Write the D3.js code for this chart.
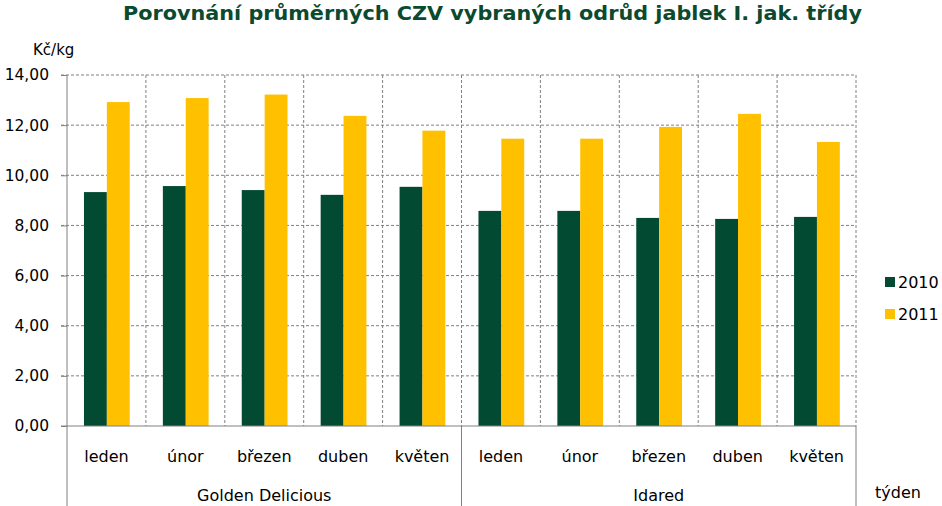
<!DOCTYPE html>
<html>
<head>
<meta charset="utf-8">
<script src="https://cdn.jsdelivr.net/npm/d3@7"></script>
<style>
  body { margin: 0; background: #fff; }
  text { font-family: "DejaVu Sans", Verdana, sans-serif; }
</style>
</head>
<body>
<div id="chart"></div>
<script>
// data
var groups = ['Golden Delicious', 'Idared'];
var months = ['leden', 'únor', 'březen', 'duben', 'květen'];
var series = ['2010', '2011'];
var values2010 = [9.33, 9.57, 9.41, 9.22, 9.54, 8.58, 8.58, 8.30, 8.26, 8.34];
var values2011 = [12.92, 13.08, 13.22, 12.37, 11.78, 11.46, 11.46, 11.93, 12.45, 11.33];
var yTicks = [0, 2, 4, 6, 8, 10, 12, 14];
var colors = ['#034a32', '#ffc000'];

var margin = { top: 75, right: 86, bottom: 80, left: 67 },
    width = 942 - margin.left - margin.right,
    height = 506 - margin.top - margin.bottom;

var svg = d3.select('#chart')
  .append('svg')
    .attr('width', 942)
    .attr('height', 506)
  .append('g')
    .attr('transform', 'translate(' + margin.left + ',' + margin.top + ')');

// one row per bar category
var rows = [];
groups.forEach(function(g, gi) {
  months.forEach(function(m, mi) {
    var i = gi * months.length + mi;
    rows.push({ key: g + '|' + m, group: g, month: m, vals: [values2010[i], values2011[i]] });
  });
});

var x0 = d3.scaleBand()
  .domain(rows.map(d => d.key))
  .range([0, width]);
var bw = x0.bandwidth();
var x1 = d3.scaleBand()
  .domain(series)
  .range([bw * 0.215, bw * 0.795]);
var xg = d3.scaleBand()
  .domain(groups)
  .range([0, width]);

var y = d3.scaleLinear()
  .domain([0, 14])
  .range([height, 0]);

// horizontal gridlines
svg.append('g')
  .selectAll('line')
  .data(yTicks.filter(t => t > 0))
  .enter()
  .append('line')
    .attr('x1', -6)
    .attr('x2', width)
    .attr('y1', d => y(d))
    .attr('y2', d => y(d))
    .attr('stroke', '#808080')
    .attr('stroke-dasharray', '3,2');

// vertical gridlines
svg.append('g')
  .selectAll('line')
  .data(rows)
  .enter()
  .append('line')
    .attr('x1', d => x0(d.key) + bw)
    .attr('x2', d => x0(d.key) + bw)
    .attr('y1', 0)
    .attr('y2', height)
    .attr('stroke', '#808080')
    .attr('stroke-dasharray', '3,2');

// bars
var cat = svg.append('g')
  .selectAll('g')
  .data(rows)
  .enter()
  .append('g')
    .attr('transform', d => 'translate(' + x0(d.key) + ',0)');

cat.selectAll('rect')
  .data(d => d.vals.map((v, i) => ({ s: series[i], v: v, i: i })))
  .enter()
  .append('rect')
    .attr('x', d => x1(d.s))
    .attr('width', x1.bandwidth())
    .attr('y', d => y(d.v))
    .attr('height', d => height - y(d.v))
    .attr('fill', d => colors[d.i]);

// y axis
var yAxis = svg.append('g')
  .call(d3.axisLeft(y)
    .tickValues(yTicks)
    .tickSize(6)
    .tickPadding(12)
    .tickFormat(d => d3.format('.2f')(d).replace('.', ',')));
yAxis.select('.domain').attr('stroke', '#808080').attr('d', 'M0,0V' + (height + margin.bottom));
yAxis.selectAll('.tick line').attr('stroke', '#808080');
yAxis.selectAll('.tick text')
  .attr('font-family', '"DejaVu Sans", Verdana, sans-serif')
  .attr('font-size', '15.5px')
  .attr('fill', '#000');

// x axis line
svg.append('line')
  .attr('x1', -6)
  .attr('x2', width)
  .attr('y1', height)
  .attr('y2', height)
  .attr('stroke', '#808080');

// group separators below the axis
svg.append('g')
  .selectAll('line')
  .data(groups)
  .enter()
  .append('line')
    .attr('x1', d => xg(d) + xg.bandwidth())
    .attr('x2', d => xg(d) + xg.bandwidth())
    .attr('y1', height)
    .attr('y2', height + margin.bottom)
    .attr('stroke', '#808080');

// month labels
svg.append('g')
  .selectAll('text')
  .data(rows)
  .enter()
  .append('text')
    .attr('x', d => x0(d.key) + bw / 2)
    .attr('y', height + 36)
    .attr('text-anchor', 'middle')
    .attr('font-size', '16px')
    .attr('fill', '#000')
    .text(d => d.month);

// group labels
svg.append('g')
  .selectAll('text')
  .data(groups)
  .enter()
  .append('text')
    .attr('x', d => xg(d) + xg.bandwidth() / 2)
    .attr('y', height + 75)
    .attr('text-anchor', 'middle')
    .attr('font-size', '16px')
    .attr('fill', '#000')
    .text(d => d);

// axis titles
svg.append('text')
  .attr('x', 33 - margin.left)
  .attr('y', 55 - margin.top)
  .attr('font-size', '15px')
  .attr('fill', '#000')
  .text('Kč/kg');

svg.append('text')
  .attr('x', 875 - margin.left)
  .attr('y', 498 - margin.top)
  .attr('font-size', '16px')
  .attr('fill', '#000')
  .text('týden');

// title
svg.append('text')
  .attr('x', 123 - margin.left)
  .attr('y', 20 - margin.top)
  .attr('font-size', '19px')
  .attr('font-weight', 'bold')
  .attr('fill', '#0b4a2e')
  .attr('textLength', 739)
  .attr('lengthAdjust', 'spacingAndGlyphs')
  .text('Porovnání průměrných CZV vybraných odrůd jablek I. jak. třídy');

// legend
var legend = svg.append('g')
  .attr('transform', 'translate(' + (885 - margin.left) + ',' + (277 - margin.top) + ')');
var li = legend.selectAll('g')
  .data(series)
  .enter()
  .append('g')
    .attr('transform', (d, i) => 'translate(0,' + i * 32 + ')');
li.append('rect')
  .attr('width', 10)
  .attr('height', 10)
  .attr('fill', (d, i) => colors[i]);
li.append('text')
  .attr('x', 13)
  .attr('y', 11)
  .attr('font-size', '16px')
  .attr('fill', '#000')
  .text(d => d);
</script>
</body>
</html>
